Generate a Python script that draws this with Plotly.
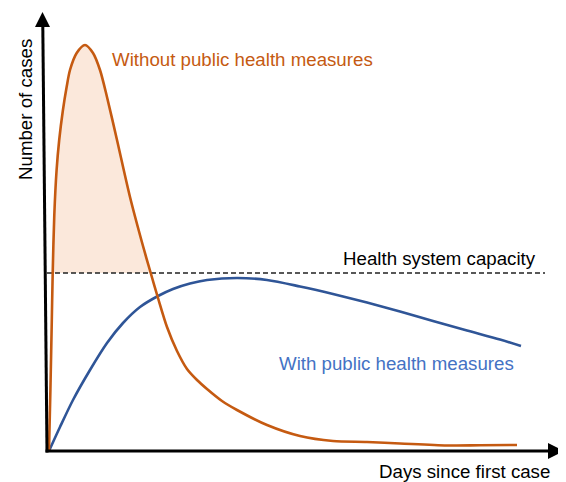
import plotly.graph_objects as go

# ---- data (abstract units: days since first case / number of cases) ----
days_without = [2, 3.4, 4.8, 5.7, 7.3, 9.6, 12.2, 15.8, 19.8, 23, 29.7, 38, 46, 53, 60, 70, 83, 96,
                104, 111, 120, 130, 140, 150, 160, 175, 190, 220, 253, 286, 320, 353, 400, 433, 470]
cases_without = [0, 61, 131, 178, 236, 281, 311, 340, 365, 381, 398, 406, 398, 381, 354, 311, 254, 205,
                 177, 153, 124, 100, 82, 71, 62, 50, 41, 26, 15, 10, 9, 7.5, 5.5, 5.7, 6]

days_with = [2, 13, 26, 43, 60, 76, 93, 111, 126, 143, 160, 190, 220, 253, 286, 320, 353, 386, 420, 453, 474]
cases_with = [0, 24, 51, 81, 108, 128, 144, 155, 162, 167.5, 171, 173, 171, 164.5, 157, 148.5, 139.5,
              130, 120.5, 111.5, 105]

capacity = 178
capacity_days = [0, 498]

label_without = "Without public health measures"
label_with = "With public health measures"
label_capacity = "Health system capacity"
x_title = "Days since first case"
y_title = "Number of cases"

ORANGE = "#c55a11"
BLUE_LINE = "#2f5597"
BLUE_TEXT = "#4472c4"
FILL = "#fbe8db"
FONT = "Arial, Liberation Sans, sans-serif"
FS = 18.7

# ---- fill region: part of the "without" curve above capacity ----
fx, fy = [], []
for i in range(len(days_without)):
    x0, y0 = days_without[i], cases_without[i]
    if i > 0:
        xp, yp = days_without[i - 1], cases_without[i - 1]
        if (yp - capacity) * (y0 - capacity) < 0:
            t = (capacity - yp) / (y0 - yp)
            fx.append(xp + t * (x0 - xp))
            fy.append(capacity)
    if y0 >= capacity:
        fx.append(x0)
        fy.append(y0)

fig = go.Figure()

fig.add_trace(go.Scatter(x=fx, y=fy, mode="lines", fill="toself", fillcolor=FILL,
                         line=dict(width=0, color=FILL, shape="spline", smoothing=0.8),
                         hoverinfo="skip", showlegend=False))

fig.add_trace(go.Scatter(x=capacity_days, y=[capacity, capacity], mode="lines",
                         line=dict(color="#222222", width=1.3, dash="5px,3px"),
                         showlegend=False))

fig.add_trace(go.Scatter(x=days_with, y=cases_with, mode="lines",
                         line=dict(color=BLUE_LINE, width=2.6, shape="spline", smoothing=0.8),
                         showlegend=False))

fig.add_trace(go.Scatter(x=days_without, y=cases_without, mode="lines",
                         line=dict(color=ORANGE, width=2.6, shape="spline", smoothing=0.8),
                         showlegend=False))

shapes = [
    # y axis (slightly slanted as in the reference) and arrowhead
    dict(type="line", x0=0, y0=-1.5, x1=-4.2, y1=425, line=dict(color="black", width=3)),
    dict(type="path", path="M -12,424 L 3,424 L -4.5,439 Z", fillcolor="black", line=dict(width=0)),
    # x axis and arrowhead
    dict(type="line", x0=-1.5, y0=0, x1=503, y1=0, line=dict(color="black", width=3)),
    dict(type="path", path="M 501,8 L 517,0 L 501,-8 Z", fillcolor="black", line=dict(width=0)),
]

annotations = [
    dict(x=195.5, y=392, text=label_without, showarrow=False, font=dict(family=FONT, size=FS, color=ORANGE)),
    dict(x=392.5, y=193, text=label_capacity, showarrow=False, font=dict(family=FONT, size=FS, color="black")),
    dict(x=349, y=88, text=label_with, showarrow=False, font=dict(family=FONT, size=FS, color=BLUE_TEXT)),
    dict(x=417.5, y=-20, text=x_title, showarrow=False, font=dict(family=FONT, size=FS, color="black")),
    dict(x=-22, y=341, text=y_title, showarrow=False, textangle=-90, font=dict(family=FONT, size=FS, color="black")),
]

# the page adds an 8px body margin, so the figure is 8px smaller than the window
fig.update_layout(
    width=558, height=474,
    margin=dict(l=0, r=0, t=0, b=0),
    paper_bgcolor="white", plot_bgcolor="white",
    xaxis=dict(range=[-39, 519], visible=False, fixedrange=True),
    yaxis=dict(range=[-31, 443], visible=False, fixedrange=True),
    shapes=shapes, annotations=annotations,
    showlegend=False,
)

fig.write_html("out.html")
